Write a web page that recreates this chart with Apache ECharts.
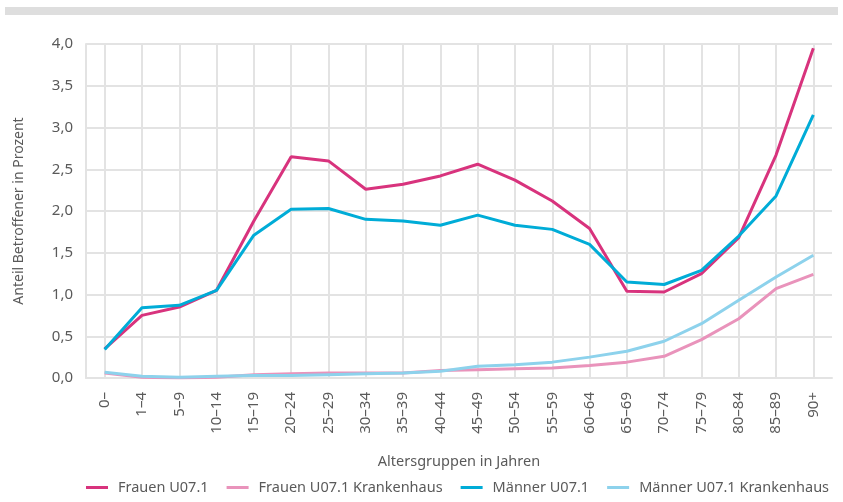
<!DOCTYPE html>
<html>
<head>
<meta charset="utf-8">
<script src="https://cdn.jsdelivr.net/npm/echarts@6/dist/echarts.min.js"></script>
<style>
    html, body { margin: 0; padding: 0; background: #fff; }
    #chart { width: 843px; height: 502px; }
</style>
</head>
<body>
<div id="chart"></div>
<script>
const ageGroups = ['0–', '1–4', '5–9', '10–14', '15–19', '20–24', '25–29', '30–34', '35–39', '40–44',
    '45–49', '50–54', '55–59', '60–64', '65–69', '70–74', '75–79', '80–84', '85–89', '90+']

const frauen = [0.35, 0.75, 0.85, 1.05, 1.88, 2.65, 2.60, 2.26, 2.32, 2.42,
    2.56, 2.37, 2.12, 1.79, 1.04, 1.03, 1.25, 1.68, 2.67, 3.95]
const frauenKrankenhaus = [0.06, 0.01, 0.00, 0.01, 0.04, 0.05, 0.06, 0.06, 0.06, 0.09,
    0.10, 0.11, 0.12, 0.15, 0.19, 0.26, 0.46, 0.71, 1.07, 1.24]
const maenner = [0.34, 0.84, 0.87, 1.05, 1.71, 2.02, 2.03, 1.90, 1.88, 1.83,
    1.95, 1.83, 1.78, 1.60, 1.15, 1.12, 1.29, 1.70, 2.18, 3.15]
const maennerKrankenhaus = [0.07, 0.02, 0.01, 0.02, 0.03, 0.03, 0.04, 0.05, 0.06, 0.08,
    0.14, 0.16, 0.19, 0.25, 0.32, 0.44, 0.65, 0.93, 1.21, 1.47]

const font = 'Noto Sans'
const textColor = '#5a5a5a'
const gridColor = '#e3e3e3'

const chart = echarts.init(document.getElementById('chart'))

const lineSeries = (name, data, color) => ({
    name,
    type: 'line',
    data,
    symbol: 'none',
    smooth: false,
    lineStyle: { width: 3, color },
    itemStyle: { color }
})

chart.setOption({
    animation: false,
    textStyle: { fontFamily: font },
    graphic: [
        { type: 'rect', shape: { x: 5, y: 7, width: 833, height: 8 }, style: { fill: '#dedede' } }
    ],
    grid: { left: 86, right: 11, top: 44, bottom: 124 },
    legend: {
        top: 480,
        left: 86,
        right: 0,
        padding: 0,
        itemWidth: 22,
        itemHeight: 3,
        itemGap: 18,
        icon: 'rect',
        textStyle: { fontFamily: font, fontSize: 14.5, color: textColor, padding: [0, 0, 0, 5] },
        data: ['Frauen U07.1', 'Frauen U07.1 Krankenhaus', 'Männer U07.1', 'Männer U07.1 Krankenhaus']
    },
    xAxis: {
        type: 'category',
        data: ageGroups,
        boundaryGap: true,
        name: 'Altersgruppen in Jahren',
        nameLocation: 'middle',
        nameGap: 76,
        nameTextStyle: { fontFamily: font, fontSize: 14.5, color: textColor },
        axisLine: { show: true, lineStyle: { color: gridColor, width: 2 } },
        axisTick: { show: false, alignWithLabel: true },
        splitLine: { show: true, alignWithLabel: true, lineStyle: { color: gridColor, width: 2 } },
        axisLabel: { rotate: 90, margin: 14, fontSize: 15, color: textColor, fontFamily: font }
    },
    yAxis: {
        type: 'value',
        min: 0,
        max: 4,
        interval: 0.5,
        name: 'Anteil Betroffener in Prozent',
        nameLocation: 'middle',
        nameGap: 60,
        nameTextStyle: { fontFamily: font, fontSize: 14, color: textColor },
        axisLine: { show: true, lineStyle: { color: gridColor, width: 2 } },
        axisTick: { show: false },
        splitLine: { show: true, lineStyle: { color: gridColor, width: 2 } },
        axisLabel: {
            margin: 13,
            fontSize: 15,
            color: textColor,
            fontFamily: font,
            formatter: v => v.toFixed(1).replace('.', ',')
        }
    },
    series: [
        lineSeries('Frauen U07.1', frauen, '#d8337d'),
        lineSeries('Frauen U07.1 Krankenhaus', frauenKrankenhaus, '#e993bb'),
        lineSeries('Männer U07.1', maenner, '#00acd7'),
        lineSeries('Männer U07.1 Krankenhaus', maennerKrankenhaus, '#8dd2ec')
    ]
})
</script>
</body>
</html>
